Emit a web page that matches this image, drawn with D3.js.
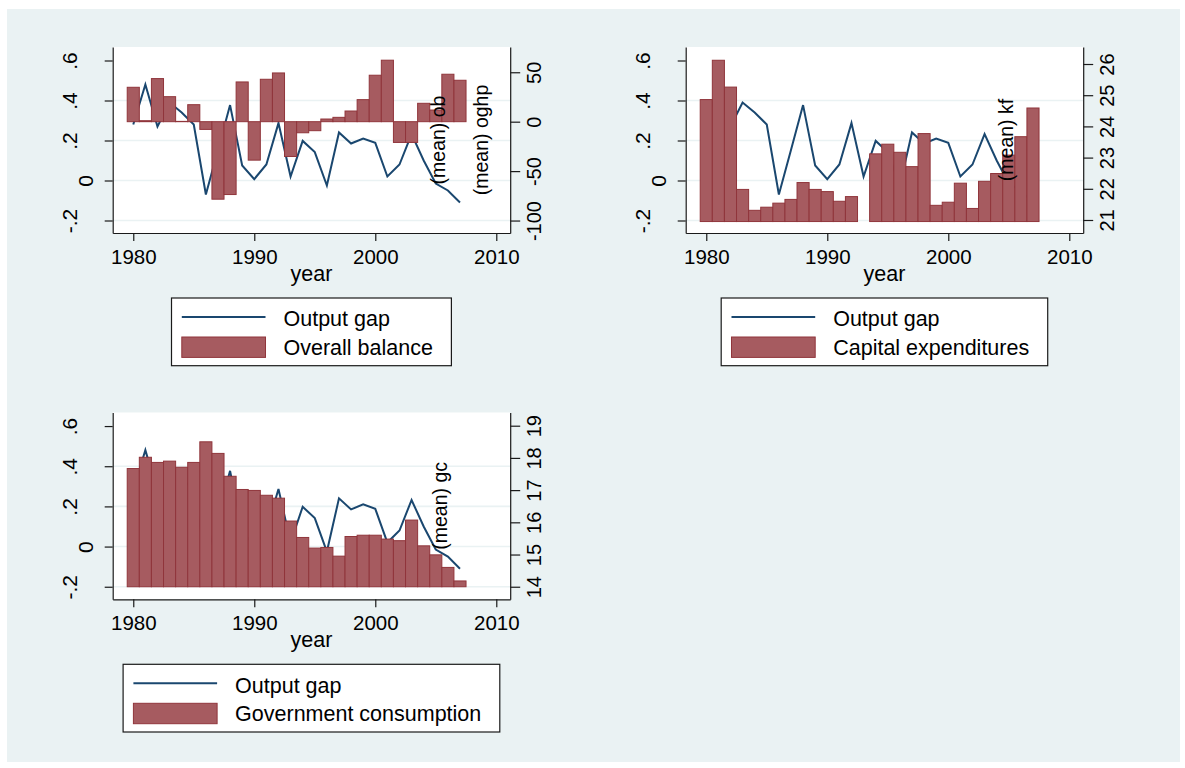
<!DOCTYPE html>
<html>
<head>
<meta charset="utf-8">
<script src="https://cdn.jsdelivr.net/npm/d3@7"></script>
<style>
  body { margin: 0; background: #fff; }
  svg { display: block; }
  text { font-family: "Liberation Sans", Arial, sans-serif; fill: #000; }
</style>
</head>
<body>
<svg id="chart" width="1185" height="768"></svg>
<script>
// data
const years = [1980, 1981, 1982, 1983, 1984, 1985, 1986, 1987, 1988, 1989,
               1990, 1991, 1992, 1993, 1994, 1995, 1996, 1997, 1998, 1999,
               2000, 2001, 2002, 2003, 2004, 2005, 2006, 2007];

const outputGap = [0.28, 0.48, 0.27, 0.39, 0.34, 0.28, -0.07, 0.153, 0.377, 0.075,
                   0.007, 0.08, 0.287, 0.02, 0.198, 0.142, -0.025, 0.24, 0.185, 0.21,
                   0.188, 0.02, 0.08, 0.232, 0.1, -0.015, -0.05, -0.11];

const overallBalance = [34.8, 1, 43.6, 25.3, 0.3, 17.2, -7.8, -78.4, -73.7, 40.2,
                        -38.9, 42.9, 49.3, -35.2, -11.2, -9.1, 2.7, 4.4, 10.8, 22.3,
                        47, 62.2, -21, -21, 18.6, 11.8, 48, 41.9];

const capitalExp = [24.86, 26.12, 25.26, 21.98, 21.31, 21.41, 21.54, 21.66, 22.2, 21.98,
                    21.91, 21.6, 21.75, null, 23.12, 23.43, 23.17, 22.71, 23.77, 21.47,
                    21.57, 22.18, 21.37, 22.24, 22.49, 23.08, 23.67, 24.59];

const govConsumption = [17.67, 18.02, 17.86, 17.9, 17.71, 17.86, 18.5, 18.14, 17.43, 17.02,
                        16.99, 16.84, 16.75, 16.04, 15.53, 15.2, 15.22, 14.95, 15.56, 15.6,
                        15.6, 15.48, 15.43, 16.07, 15.27, 14.99, 14.6, 14.18];

const gapTicks = [-0.2, 0, 0.2, 0.4, 0.6];
const gridTicks = [-0.2, 0, 0.2, 0.4];
const obTicks = [-100, -50, 0, 50];
const kfTicks = [21, 22, 23, 24, 25, 26];
const gcTicks = [14, 15, 16, 17, 18, 19];
const yearTicks = [1980, 1990, 2000, 2010];

const BG = "#eaf2f3", NAVY = "#1a476f", BAR = "#a65b60", BAR_EDGE = "#90353b";

const svg = d3.select("#chart");

svg.append("rect")
   .attr("x", 7).attr("y", 9)
   .attr("width", 1173).attr("height", 753)
   .attr("fill", BG);

// Stata style labels: .6 .4 .2 0 -.2 (plain hyphen)
const gapFmt = d => d === 0 ? "0" : (d < 0 ? "-" : "") + Math.abs(d).toFixed(1).replace("0.", ".");
const intFmt = d => String(d);

const panels = [
  { left: 112.7, top: 47, h: 186, bars: overallBalance, base: 0,
    rDomain: [-112.6, 75.55], rTicks: obTicks, legend: "Overall balance",
    titles: [{ t: "(mean) ob", x: 438 }, { t: "(mean) oghp", x: 481 }] },
  { left: 685.7, top: 47, h: 186, bars: capitalExp, base: 20.95,
    rDomain: [20.583, 26.545], rTicks: kfTicks, legend: "Capital expenditures",
    titles: [{ t: "(mean) kf", x: 1006 }] },
  { left: 112.7, top: 412.5, h: 186.8, bars: govConsumption, base: 14,
    rDomain: [13.61, 19.41], rTicks: gcTicks, legend: "Government consumption",
    titles: [{ t: "(mean) gc", x: 440 }] }
];

const plotW = 397.5;

panels.forEach(drawPanel);

function drawPanel(p) {
  const g = svg.append("g");
  const bottom = p.top + p.h;

  const x = d3.scaleLinear().domain([1978.3, 2011.15]).range([p.left, p.left + plotW]);
  const yL = d3.scaleLinear().domain([-0.2625, 0.6675]).range([bottom, p.top]);
  const yR = d3.scaleLinear().domain(p.rDomain).range([bottom, p.top]);

  // plot region
  g.append("rect")
   .attr("x", p.left).attr("y", p.top)
   .attr("width", plotW).attr("height", p.h)
   .attr("fill", "#fff");

  g.selectAll("line.grid")
   .data(gridTicks)
   .enter().append("line")
   .attr("class", "grid")
   .attr("x1", p.left).attr("x2", p.left + plotW)
   .attr("y1", d => yL(d)).attr("y2", d => yL(d))
   .attr("stroke", BG).attr("stroke-width", 1.6);

  // output gap line (drawn first, bars cover it)
  const pts = years.map((yr, i) => ({ year: yr, v: outputGap[i] }));
  g.append("path")
   .datum(pts)
   .attr("d", d3.line().x(d => x(d.year)).y(d => yL(d.v)))
   .attr("fill", "none")
   .attr("stroke", NAVY)
   .attr("stroke-width", 2);

  const barData = years.map((yr, i) => ({ year: yr, v: p.bars[i] })).filter(d => d.v != null);
  g.selectAll("rect.bar")
   .data(barData)
   .enter().append("rect")
   .attr("class", "bar")
   .attr("x", d => x(d.year - 0.5))
   .attr("width", d => x(d.year + 0.5) - x(d.year - 0.5))
   .attr("y", d => Math.min(yR(d.v), yR(p.base)))
   .attr("height", d => Math.abs(yR(d.v) - yR(p.base)))
   .attr("fill", BAR)
   .attr("stroke", BAR_EDGE)
   .attr("stroke-width", 1);

  // axes
  const ax = g.append("g").attr("transform", `translate(${p.left},0)`)
    .call(d3.axisLeft(yL).tickValues(gapTicks).tickSize(8).tickSizeOuter(0).tickFormat(gapFmt));
  ax.selectAll("text")
    .attr("x", null).attr("dy", null)
    .attr("text-anchor", "middle")
    .attr("transform", d => `translate(${d === 0 ? -19.5 : -36},0) rotate(-90)`);

  const axR = g.append("g").attr("transform", `translate(${p.left + plotW},0)`)
    .call(d3.axisRight(yR).tickValues(p.rTicks).tickSize(10).tickSizeOuter(0).tickFormat(intFmt));
  axR.selectAll("text")
    .attr("x", null).attr("dy", null)
    .attr("text-anchor", "middle")
    .attr("transform", "translate(31,0) rotate(-90)");

  const axB = g.append("g").attr("transform", `translate(0,${bottom})`)
    .call(d3.axisBottom(x).tickValues(yearTicks).tickSize(8).tickSizeOuter(0).tickFormat(intFmt));
  axB.selectAll("text").attr("y", 30.5).attr("dy", null);

  [ax, axR, axB].forEach(a => {
    a.attr("font-family", null).attr("font-size", null);
    a.selectAll("path, line").attr("stroke", "#1a1a1a").attr("stroke-width", 1.2);
  });
  ax.selectAll("text").style("font-size", "21px");
  axR.selectAll("text").style("font-size", "20px");
  axB.selectAll("text").style("font-size", "20.5px");

  // axis title
  g.append("text")
   .attr("x", p.left + plotW / 2).attr("y", bottom + 48)
   .attr("text-anchor", "middle")
   .style("font-size", "21.5px")
   .text("year");

  // right axis titles (Stata put them inside the plot)
  p.titles.forEach(tt => {
    g.append("text")
     .attr("transform", `translate(${tt.x},${p.top + p.h / 2}) rotate(-90)`)
     .attr("text-anchor", "middle")
     .attr("dominant-baseline", "central")
     .style("font-size", "19.5px")
     .text(tt.t);
  });

  // legend
  const lg = g.append("g");
  const box = lg.append("rect").attr("fill", "#fff").attr("stroke", "#1a1a1a").attr("stroke-width", 1.2);
  const t1 = lg.append("text").style("font-size", "21.5px").text("Output gap");
  const t2 = lg.append("text").style("font-size", "21.5px").text(p.legend);
  const textW = Math.max(t1.node().getComputedTextLength(), t2.node().getComputedTextLength());
  const boxW = 10.3 + 83.7 + 18 + textW + 18.5;
  const bx = p.left + plotW / 2 - boxW / 2, by = bottom + 65;
  box.attr("x", bx).attr("y", by).attr("width", boxW).attr("height", 67.7);
  lg.append("line")
    .attr("x1", bx + 10.3).attr("x2", bx + 94)
    .attr("y1", by + 19).attr("y2", by + 19)
    .attr("stroke", NAVY).attr("stroke-width", 2);
  lg.append("rect")
    .attr("x", bx + 10.3).attr("y", by + 39)
    .attr("width", 83.7).attr("height", 20.4)
    .attr("fill", BAR).attr("stroke", BAR_EDGE).attr("stroke-width", 1);
  t1.attr("x", bx + 112).attr("y", by + 28.4);
  t2.attr("x", bx + 112).attr("y", by + 56.7);
}
</script>
</body>
</html>
